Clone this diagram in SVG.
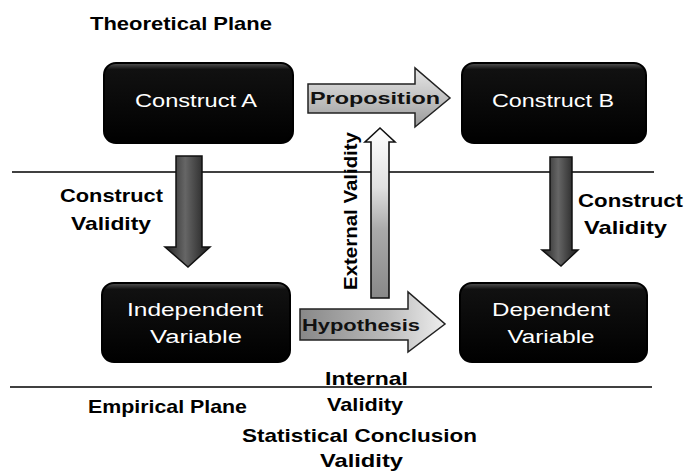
<svg xmlns="http://www.w3.org/2000/svg" width="684" height="473" viewBox="0 0 684 473">
<style>
.box{fill:url(#boxg);stroke:#000;stroke-width:2}
.bt{fill:#fff;font-family:"Liberation Sans",Arial,sans-serif;font-size:18px;text-anchor:middle}
.lb{fill:#000;font-family:"Liberation Sans",Arial,sans-serif;font-size:19px;font-weight:bold}
.plane{stroke:#000;stroke-width:1.6;fill:none}
.dark{fill:url(#darkg);stroke:#111;stroke-width:1.5}
.at{fill:#111;font-family:"Liberation Sans",Arial,sans-serif;font-size:17px;font-weight:bold}
</style>
<defs>
<linearGradient id="boxg" x1="0" y1="0" x2="0" y2="1">
<stop offset="0" stop-color="#555"/>
<stop offset="0.08" stop-color="#111"/>
<stop offset="1" stop-color="#000"/>
</linearGradient>
<linearGradient id="darkg" x1="0" y1="0" x2="1" y2="0">
<stop offset="0" stop-color="#222"/>
<stop offset="0.45" stop-color="#666"/>
<stop offset="1" stop-color="#1a1a1a"/>
</linearGradient>
<linearGradient id="extg" x1="0" y1="0" x2="0" y2="1">
<stop offset="0" stop-color="#fff"/>
<stop offset="0.35" stop-color="#e0e0e0"/>
<stop offset="0.6" stop-color="#aaa"/>
<stop offset="1" stop-color="#888"/>
</linearGradient>
<linearGradient id="propg" x1="0" y1="0" x2="0" y2="1">
<stop offset="0" stop-color="#e6e6e6"/>
<stop offset="0.6" stop-color="#bbb"/>
<stop offset="1" stop-color="#999"/>
</linearGradient>
<linearGradient id="hypg" x1="0" y1="0" x2="1" y2="0">
<stop offset="0" stop-color="#888"/>
<stop offset="0.6" stop-color="#bbb"/>
<stop offset="1" stop-color="#eee"/>
</linearGradient>
</defs>
<rect width="684" height="473" fill="#fff"/>

<g id="planes">
<line class="plane" x1="12" y1="172" x2="654" y2="172"/>
<line class="plane" x1="10" y1="387" x2="652" y2="387"/>
<text class="lb" x="90" y="30" textLength="182" lengthAdjust="spacingAndGlyphs">Theoretical Plane</text>
<text class="lb" x="88" y="413" textLength="159" lengthAdjust="spacingAndGlyphs">Empirical Plane</text>
</g>

<g id="connectors">
<g id="construct-validity-left">
<path class="dark" d="M176,156 H202 V247 H210 L188,267 L165,247 H176 Z"/>
<text class="lb" x="60" y="202" textLength="103" lengthAdjust="spacingAndGlyphs">Construct</text>
<text class="lb" x="71" y="230" textLength="80" lengthAdjust="spacingAndGlyphs">Validity</text>
</g>
<g id="construct-validity-right">
<path class="dark" d="M550,157 H572 V250 H578 L561,266 L542,250 H550 Z"/>
<text class="lb" x="578" y="207" textLength="105" lengthAdjust="spacingAndGlyphs">Construct</text>
<text class="lb" x="584" y="234" textLength="83" lengthAdjust="spacingAndGlyphs">Validity</text>
</g>
<g id="proposition">
<path d="M308,84 H415 V68 L450,98 L415,127 V113 H308 Z" fill="url(#propg)" stroke="#222" stroke-width="1.5"/>
<text class="at" x="310" y="104" textLength="130" lengthAdjust="spacingAndGlyphs">Proposition</text>
</g>
<g id="hypothesis">
<path d="M300,309 H408 V292 L445,324 L408,352 V340 H300 Z" fill="url(#hypg)" stroke="#222" stroke-width="1.5"/>
<text class="at" x="302" y="331" textLength="118" lengthAdjust="spacingAndGlyphs">Hypothesis</text>
</g>
<g id="external-validity">
<path d="M371,298 V142 H365 L380,128 L395,142 H389 V298 Z" fill="url(#extg)" stroke="#111" stroke-width="1.6"/>
<text class="lb" transform="translate(357,290) rotate(-90)" x="0" y="0" font-size="17" textLength="158" lengthAdjust="spacingAndGlyphs">External Validity</text>
</g>
<g id="internal-validity">
<text class="lb" x="325" y="385" textLength="83" lengthAdjust="spacingAndGlyphs">Internal</text>
<text class="lb" x="327" y="411" textLength="76" lengthAdjust="spacingAndGlyphs">Validity</text>
</g>
<g id="statistical-conclusion-validity">
<text class="lb" x="242" y="442" textLength="235" lengthAdjust="spacingAndGlyphs">Statistical Conclusion</text>
<text class="lb" x="320" y="467" textLength="83" lengthAdjust="spacingAndGlyphs">Validity</text>
</g>
</g>

<g id="construct-a">
<rect class="box" x="104" y="63" width="189" height="80" rx="12"/>
<text class="bt" x="196" y="107" textLength="122" lengthAdjust="spacingAndGlyphs">Construct A</text>
</g>
<g id="construct-b">
<rect class="box" x="462" y="63" width="184" height="80" rx="12"/>
<text class="bt" x="553" y="107" textLength="122" lengthAdjust="spacingAndGlyphs">Construct B</text>
</g>
<g id="independent-variable">
<rect class="box" x="102" y="283" width="188" height="79" rx="12"/>
<text class="bt" x="195" y="316" textLength="136" lengthAdjust="spacingAndGlyphs">Independent</text>
<text class="bt" x="196" y="343" textLength="92" lengthAdjust="spacingAndGlyphs">Variable</text>
</g>
<g id="dependent-variable">
<rect class="box" x="460" y="283" width="187" height="79" rx="12"/>
<text class="bt" x="551" y="316" textLength="118" lengthAdjust="spacingAndGlyphs">Dependent</text>
<text class="bt" x="551" y="343" textLength="87" lengthAdjust="spacingAndGlyphs">Variable</text>
</g>
</svg>
